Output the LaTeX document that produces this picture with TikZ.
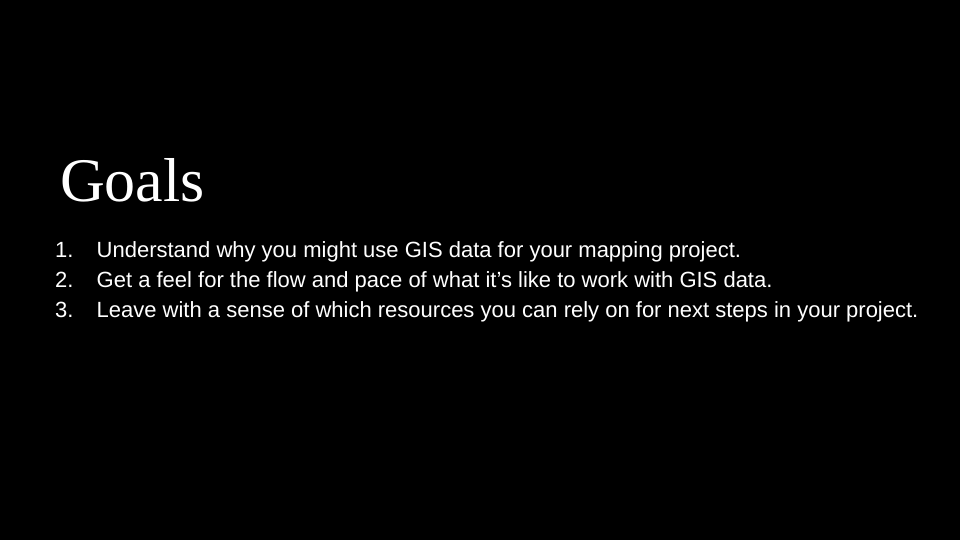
\documentclass[tikz,border=0pt]{standalone}
\usepackage{fontspec}
\setmainfont{Liberation Serif}
\setsansfont{Liberation Sans}
\begin{document}
\begin{tikzpicture}[x=1pt, y=-1pt, every node/.style={inner sep=0pt, anchor=base west, text=white}]
    % Background
    \fill[black] (0, 0) rectangle (960, 540);
    \useasboundingbox (0, 0) rectangle (960, 540);

    % Title
    \node (title) at (60, 201) {\fontsize{62}{75}\selectfont Goals};

    % Goals list
    \node (n1) at (55, 257) {\sffamily\fontsize{22}{26}\selectfont 1.};
    \node (g1) at (96.5, 257) {\sffamily\fontsize{22}{26}\selectfont Understand why you might use GIS data for your mapping project.};
    \node (n2) at (55, 287) {\sffamily\fontsize{22}{26}\selectfont 2.};
    \node (g2) at (96.5, 287) {\sffamily\fontsize{22}{26}\selectfont Get a feel for the flow and pace of what it’s like to work with GIS data.};
    \node (n3) at (55, 317) {\sffamily\fontsize{22}{26}\selectfont 3.};
    \node (g3) at (96.5, 317) {\sffamily\fontsize{22}{26}\selectfont Leave with a sense of which resources you can rely on for next steps in your project.};

\end{tikzpicture}
\end{document}
